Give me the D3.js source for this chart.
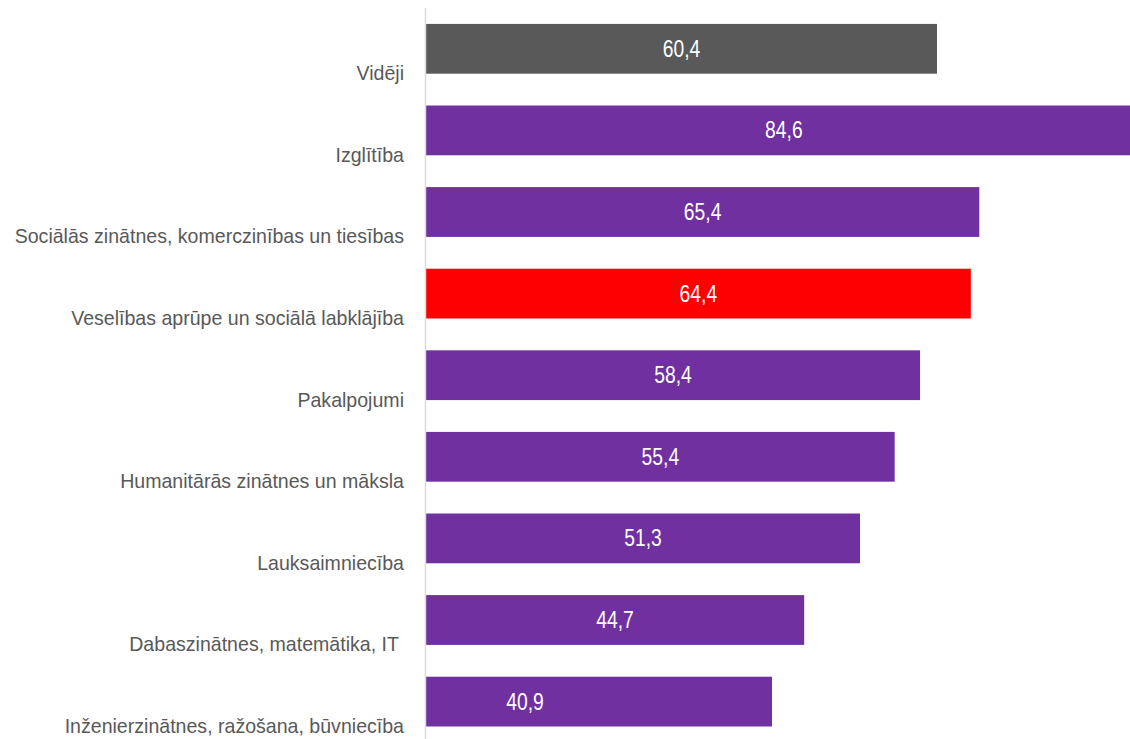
<!DOCTYPE html>
<html><head><meta charset="utf-8">
<script src="https://cdn.jsdelivr.net/npm/d3@7"></script>
<style>html,body{margin:0;padding:0;background:#fff;overflow:hidden}</style>
</head><body>
<svg id="c" width="1130" height="739"></svg>
<script>
const categories = ["Vidēji","Izglītība","Sociālās zinātnes, komerczinības un tiesības","Veselības aprūpe un sociālā labklājība","Pakalpojumi","Humanitārās zinātnes un māksla","Lauksaimniecība","Dabaszinātnes, matemātika, IT ","Inženierzinātnes, ražošana, būvniecība"];
const values = [60.4,84.6,65.4,64.4,58.4,55.4,51.3,44.7,40.9];
const valueLabels = ["60,4","84,6","65,4","64,4","58,4","55,4","51,3","44,7","40,9"];
const barColors = ["#595959","#7030a0","#7030a0","#ff0000","#7030a0","#7030a0","#7030a0","#7030a0","#7030a0"];

const svg = d3.select("#c");
const font = "'Liberation Sans',Arial,sans-serif";
const x = d3.scaleLinear().domain([0,100]).range([426,1272]);
const y = d3.scaleBand().domain(categories).range([8,742.4]).paddingInner(0.39).paddingOuter(0.195);

svg.append("g").selectAll("rect").data(values).join("rect")
  .attr("x", x(0)).attr("y",(d,i)=>y(categories[i]))
  .attr("width", d=>x(d)-x(0)).attr("height", y.bandwidth())
  .attr("fill",(d,i)=>barColors[i]);

svg.append("line").attr("x1",425.5).attr("x2",425.5).attr("y1",8).attr("y2",739)
  .attr("stroke","#d9d9d9").attr("stroke-width",1.5);

svg.append("g").selectAll("text").data(values).join("text")
  .attr("transform",(d,i)=>`translate(${i===8 ? 525 : (x(0)+x(d))/2},${y(categories[i])+y.bandwidth()/2+8}) scale(0.84,1)`)
  .attr("text-anchor","middle")
  .attr("fill","#fff").attr("font-family",font).attr("font-size",23)
  .text((d,i)=>valueLabels[i]);

svg.append("g").selectAll("text").data(categories).join("text")
  .attr("transform",d=>`translate(404,${y(d)+y.bandwidth()+6.5}) scale(0.955,1)`)
  .attr("text-anchor","end")
  .style("white-space","pre")
  .attr("fill","#595959").attr("font-family",font).attr("font-size",20.5)
  .text(d=>d);
</script>
</body></html>
